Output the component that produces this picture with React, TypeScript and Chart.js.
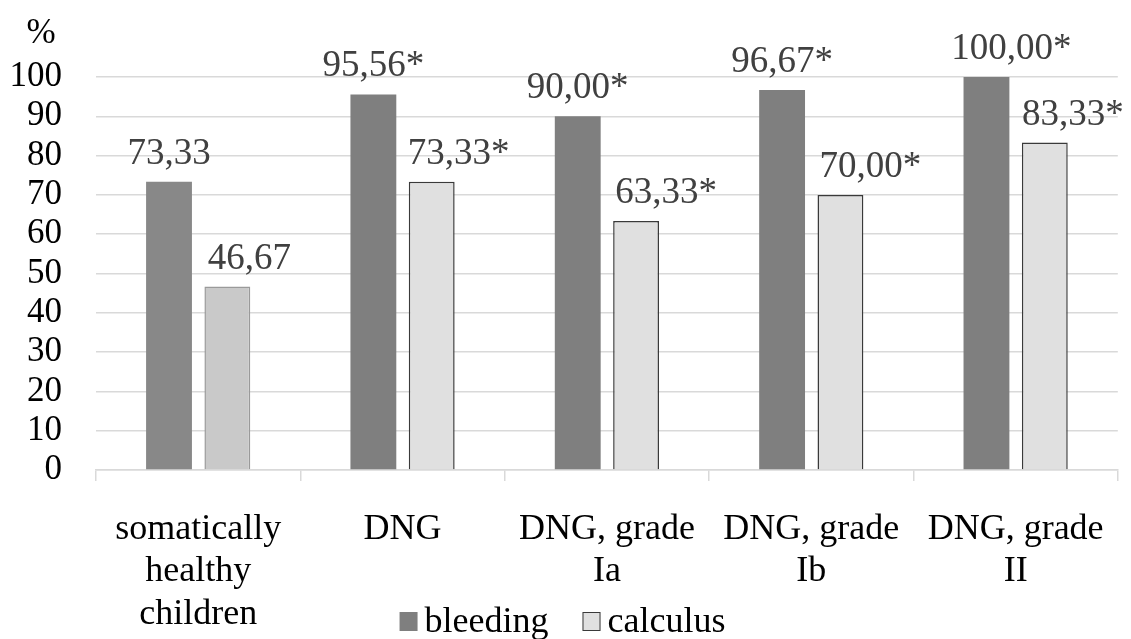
import React, { useEffect, useRef } from "react";
import { Chart, registerables } from "chart.js";

Chart.register(...registerables);

const categories: string[][] = [
  ["somatically", "healthy", "children"],
  ["DNG"],
  ["DNG, grade", "Ia"],
  ["DNG, grade", "Ib"],
  ["DNG, grade", "II"],
];
const seriesNames = ["bleeding", "calculus"];
const bleedingValues = [73.33, 95.56, 90.0, 96.67, 100.0];
const calculusValues = [46.67, 73.33, 63.33, 70.0, 83.33];
const bleedingSignificant = [false, true, true, true, true];
const calculusSignificant = [false, true, true, true, true];
const yTicks = [0, 10, 20, 30, 40, 50, 60, 70, 80, 90, 100];

const FONT = "'Liberation Serif', 'Times New Roman', serif";
const bleedingFill = ["#888888", "#7f7f7f", "#7f7f7f", "#7f7f7f", "#7f7f7f"];
const calculusFill = ["#c9c9c9", "#e0e0e0", "#e0e0e0", "#e0e0e0", "#e0e0e0"];
const calculusBorder = ["#9a9a9a", "#3a3a3a", "#3a3a3a", "#3a3a3a", "#3a3a3a"];
const bleedingLabelShift = [0, 0, 0, 0, 25];
const calculusLabelShift = [22, 27, 30, 30, 28];

const fmt = (v: number, sig: boolean) => v.toFixed(2).replace(".", ",") + (sig ? "*" : "");

const labelsPlugin = {
  id: "valueLabels",
  afterDatasetsDraw(chart: any) {
    const ctx = chart.ctx;
    ctx.save();
    ctx.font = `37px ${FONT}`;
    ctx.fillStyle = "#404040";
    ctx.textAlign = "center";
    ctx.textBaseline = "alphabetic";
    chart.data.datasets.forEach((ds: any, di: number) => {
      const meta = chart.getDatasetMeta(di);
      const sig = di === 0 ? bleedingSignificant : calculusSignificant;
      const shifts = di === 0 ? bleedingLabelShift : calculusLabelShift;
      meta.data.forEach((el: any, i: number) => {
        ctx.fillText(fmt(ds.data[i], sig[i]), el.x + shifts[i], el.y - 18);
      });
    });
    ctx.fillStyle = "#000";
    ctx.font = `35px ${FONT}`;
    ctx.fillText("%", 41, 43);
    ctx.restore();
  },
};

const legendPlugin = {
  id: "bottomLegend",
  afterDraw(chart: any) {
    const ctx = chart.ctx;
    ctx.save();
    ctx.font = `36px ${FONT}`;
    ctx.textBaseline = "alphabetic";
    ctx.textAlign = "left";
    const box = 18;
    const boxH = 19;
    const gapText = 7;
    const gapItem = 34;
    const items = chart.data.datasets.map((ds: any, i: number) => ({
      text: ds.label,
      fill: i === 0 ? "#7f7f7f" : "#e0e0e0",
      stroke: i === 0 ? null : "#3a3a3a",
      w: ctx.measureText(ds.label).width,
    }));
    const total =
      items.reduce((s: number, it: any) => s + box + gapText + it.w, 0) + gapItem * (items.length - 1);
    let x = chart.width / 2 - total / 2 - 3;
    const baseline = 632;
    items.forEach((it: any) => {
      ctx.fillStyle = it.fill;
      ctx.fillRect(x, baseline - boxH - 1, box, boxH);
      if (it.stroke) {
        ctx.strokeStyle = it.stroke;
        ctx.lineWidth = 1;
        ctx.strokeRect(x + 0.5, baseline - boxH - 0.5, box - 1, boxH - 1);
      }
      x += box + gapText;
      ctx.fillStyle = "#000";
      ctx.fillText(it.text, x, baseline);
      x += it.w + gapItem;
    });
    ctx.restore();
  },
};

export default function App() {
  const ref = useRef<HTMLCanvasElement>(null);
  useEffect(() => {
    document.body.style.margin = "0";
    const chart = new Chart(ref.current!, {
      type: "bar",
      data: {
        labels: categories as any,
        datasets: [
          {
            label: seriesNames[0],
            data: bleedingValues,
            backgroundColor: bleedingFill,
            borderWidth: 0,
            barPercentage: 0.786,
            categoryPercentage: 0.571,
          },
          {
            label: seriesNames[1],
            data: calculusValues,
            backgroundColor: calculusFill,
            borderColor: calculusBorder,
            borderWidth: 1.5,
            barPercentage: 0.786,
            categoryPercentage: 0.571,
          },
        ],
      },
      options: {
        responsive: false,
        animation: false,
        layout: { padding: { top: 77, right: 4, bottom: 0, left: 0 } },
        plugins: {
          legend: { display: false },
          tooltip: { enabled: false },
          title: { display: false },
        },
        scales: {
          x: {
            afterFit: (s: any) => {
              s.height = 169;
            },
            grid: {
              offset: true,
              drawOnChartArea: false,
              drawTicks: true,
              tickLength: 11,
              color: "#d9d9d9",
              lineWidth: 1.5,
            },
            border: { display: true, color: "#d9d9d9", width: 1.5 },
            ticks: {
              color: "#000",
              font: { family: FONT, size: 36, lineHeight: 1.18 },
              maxRotation: 0,
              minRotation: 0,
              autoSkip: false,
              padding: 27,
            },
          },
          y: {
            min: yTicks[0],
            max: yTicks[yTicks.length - 1],
            afterFit: (s: any) => {
              s.width = 96;
            },
            afterBuildTicks: (s: any) => {
              s.ticks = yTicks.map((v) => ({ value: v }));
            },
            grid: { color: "#d9d9d9", lineWidth: 1.5, drawTicks: false },
            border: { display: false },
            ticks: {
              color: "#000",
              font: { family: FONT, size: 35 },
              padding: 34,
              stepSize: 10,
              autoSkip: false,
            },
          },
        },
      },
      plugins: [labelsPlugin, legendPlugin],
    });
    return () => chart.destroy();
  }, []);
  return <canvas ref={ref} width={1131} height={639} style={{ display: "block" }} />;
}
